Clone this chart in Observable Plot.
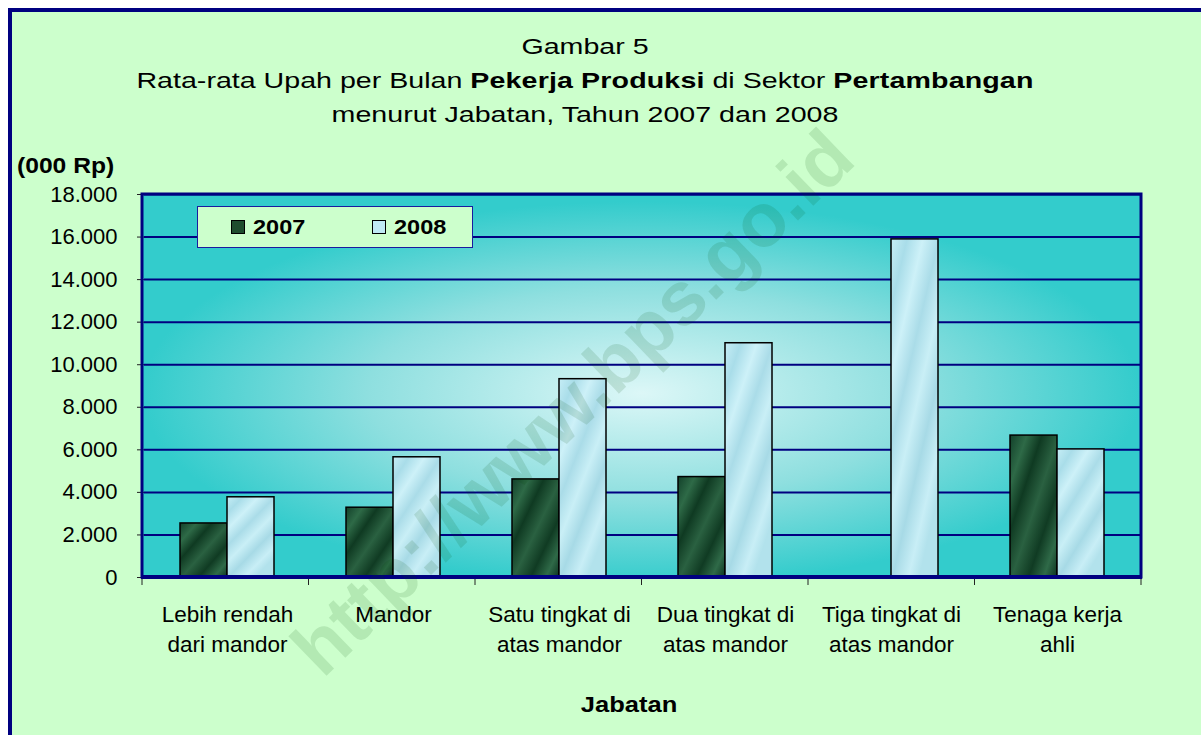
<!DOCTYPE html>
<html>
<head>
<meta charset="utf-8">
<script src="https://cdn.jsdelivr.net/npm/d3@7"></script>
<script src="https://cdn.jsdelivr.net/npm/@observablehq/plot@0.6"></script>
<style>
  html, body { margin: 0; padding: 0; }
  body { width: 1201px; height: 735px; overflow: hidden; position: relative; background: #fff;
         font-family: "Liberation Sans", Arial, sans-serif; color: #000; }
  #frame { position: absolute; left: 8px; top: 8px; right: 0; bottom: 0;
           border-left: 4px solid #000080; border-top: 4px solid #000080; background: #ccffcc; }
  .title { position: absolute; left: 0; width: 1170px; text-align: center; font-size: 22px; line-height: 26px;
           white-space: nowrap; transform: scaleX(1.3); transform-origin: 585px 0; }
  .title b { letter-spacing: 0.1px; }
  #ylab { position: absolute; left: 17px; top: 153px; font-size: 22px; line-height: 26px; font-weight: bold;
          transform: scaleX(1.12); transform-origin: 0 0; white-space: nowrap; }
  #xlab { position: absolute; left: 429px; width: 400px; top: 692px; text-align: center; font-size: 22px;
          line-height: 26px; font-weight: bold; transform: scaleX(1.16); transform-origin: 200px 0; }
  #chart { position: absolute; left: 0; top: 150px; }
  #legend { position: absolute; left: 197px; top: 206px; width: 276px; height: 42px; box-sizing: border-box;
            border: 1.5px solid #1a1aa0; background: #ccffcc; }
  .lg-item { position: absolute; top: 0; height: 39px; display: flex; align-items: center; }
  .lg-sw { width: 12px; height: 12px; border: 1.5px solid #000; margin-right: 8px; }
  .lg-tx { font-weight: bold; font-size: 21px; transform: scaleX(1.12); transform-origin: 0 50%; }
  #wm { position: absolute; left: 572px; top: 402px; transform: translate(-50%, -50%) rotate(-44deg);
        font-size: 76px; font-weight: bold; color: rgba(0, 70, 0, 0.12); white-space: nowrap; pointer-events: none; }
</style>
</head>
<body>
<div id="frame"></div>
<div class="title" style="top:34px">Gambar 5</div>
<div class="title" style="top:68px">Rata-rata Upah per Bulan <b>Pekerja Produksi</b> di Sektor <b>Pertambangan</b></div>
<div class="title" style="top:102px">menurut Jabatan, Tahun 2007 dan 2008</div>
<div id="ylab">(000 Rp)</div>
<div id="chart"></div>
<div id="legend"></div>
<div id="xlab">Jabatan</div>
<div id="wm">http://www.bps.go.id</div>
<script>
// ---- data ----
const categories = [
  "Lebih rendah\ndari mandor",
  "Mandor",
  "Satu tingkat di\natas mandor",
  "Dua tingkat di\natas mandor",
  "Tiga tingkat di\natas mandor",
  "Tenaga kerja\nahli"
];
const years = ["2007", "2008"];
const wage2007 = [2540, 3280, 4610, 4720, null, 6670];
const wage2008 = [3770, 5650, 9320, 11010, 15890, 6020];
const yTicks = [0, 2000, 4000, 6000, 8000, 10000, 12000, 14000, 16000, 18000];

const rows = categories.flatMap((c, i) => [
  {cat: c, year: years[0], value: wage2007[i]},
  {cat: c, year: years[1], value: wage2008[i]}
]).filter(d => d.value != null);

// ---- layout ----
const W = 1201, H = 585, ML = 142, MR = 60, MT = 44, MB = 158;
const fmt = d => d3.format(",")(d).replace(/,/g, ".");

const plot = Plot.plot({
  width: W, height: H,
  marginLeft: ML, marginRight: MR, marginTop: MT, marginBottom: MB,
  style: {background: "transparent", fontFamily: '"Liberation Sans", Arial, sans-serif', color: "#000", overflow: "visible"},
  fx: {domain: categories, padding: 0, label: null},
  x: {domain: years, paddingInner: 0, paddingOuter: 0.75, axis: null},
  y: {domain: [0, 18000], label: null},
  color: {domain: years, range: ["url(#g2007)", "url(#g2008)"]},
  marks: [
    Plot.gridY(yTicks.slice(1), {stroke: "#000080", strokeOpacity: 1, strokeWidth: 2}),
    Plot.barY(rows, {fx: "cat", x: "year", y: "value", fill: "year", stroke: "#000", strokeWidth: 1.5}),
    Plot.axisY(yTicks, {tickSize: 7, tickPadding: 20, tickFormat: fmt, fontSize: 22, stroke: "#222", label: null}),
    Plot.axisFx({anchor: "bottom", tickSize: 0, tickPadding: 23, lineHeight: 1.33, fontSize: 22.5, label: null})
  ]
});

const svg = plot;
const NS = "http://www.w3.org/2000/svg";
const el = (name, attrs) => { const e = document.createElementNS(NS, name); for (const k in attrs) e.setAttribute(k, attrs[k]); return e; };

const defs = el("defs", {});
const bg = el("radialGradient", {id: "bgGrad", cx: "50%", cy: "52%", r: "50%"});
[["0", "#dcf7f7"], ["0.55", "#8edfdf"], ["1", "#33cccc"]].forEach(([o, c]) => bg.appendChild(el("stop", {offset: o, "stop-color": c})));
defs.appendChild(bg);
const g7 = el("linearGradient", {id: "g2007", x1: "0", y1: "0", x2: "1", y2: "1"});
[["0", "#12402a"], ["0.18", "#2e6a47"], ["0.34", "#0f3a22"], ["0.52", "#2a6141"], ["0.7", "#103b23"], ["0.86", "#2f6a48"], ["1", "#0c3320"]]
  .forEach(([o, c]) => g7.appendChild(el("stop", {offset: o, "stop-color": c})));
defs.appendChild(g7);
const g8 = el("linearGradient", {id: "g2008", x1: "0", y1: "0", x2: "0.6", y2: "1"});
[["0", "#c6eef6"], ["0.15", "#a9dde9"], ["0.3", "#cdf1f8"], ["0.45", "#aadce8"], ["0.6", "#c9eff6"], ["0.75", "#a7dae6"], ["0.9", "#c8eef6"], ["1", "#b2e2ec"]]
  .forEach(([o, c]) => g8.appendChild(el("stop", {offset: o, "stop-color": c})));
defs.appendChild(g8);
svg.insertBefore(defs, svg.firstChild);

const pw = W - ML - MR, ph = H - MT - MB;
const bgRect = el("rect", {x: ML, y: MT, width: pw, height: ph, fill: "url(#bgGrad)"});
svg.insertBefore(bgRect, defs.nextSibling);

svg.appendChild(el("rect", {x: ML, y: MT, width: pw, height: ph, fill: "none", stroke: "#000080", "stroke-width": 3}));
svg.appendChild(el("line", {x1: ML - 1, x2: ML + pw + 1, y1: MT + ph, y2: MT + ph, stroke: "#000080", "stroke-width": 4}));
const fxs = plot.scale("fx");
const step = (fxs.range[1] - fxs.range[0]) / categories.length;
for (let i = 0; i <= categories.length; i++) {
  const x = fxs.range[0] + i * step;
  svg.appendChild(el("line", {x1: x, x2: x, y1: MT + ph + 2, y2: MT + ph + 8, stroke: "#222", "stroke-width": 1}));
}
document.getElementById("chart").appendChild(svg);

// legend
const legendColors = {"2007": "#1f4d2e", "2008": "#bfeaf4"};
const legendX = [33, 174];
const lg = document.getElementById("legend");
years.forEach((y, i) => {
  const item = document.createElement("div");
  item.className = "lg-item";
  item.style.left = legendX[i] + "px";
  item.innerHTML = `<div class="lg-sw" style="background:${legendColors[y]}"></div><div class="lg-tx">${y}</div>`;
  lg.appendChild(item);
});
</script>
</body>
</html>
